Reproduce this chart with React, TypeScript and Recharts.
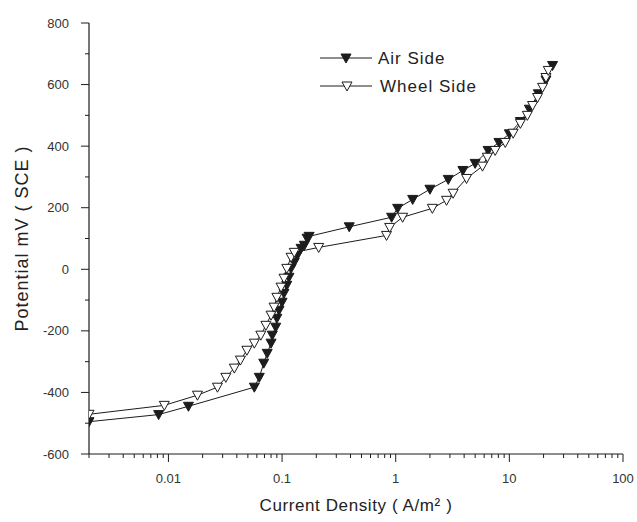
import { ScatterChart, Scatter, XAxis, YAxis } from 'recharts';

// current density (A/m2) and potential (mV vs SCE)
const airCurrent = [
  0.002, 0.0082, 0.015, 0.057, 0.063, 0.069, 0.074, 0.08, 0.082, 0.088, 0.09,
  0.094, 0.1, 0.104, 0.11, 0.115, 0.12, 0.128, 0.136, 0.147, 0.157, 0.166,
  0.173, 0.39, 0.92, 1.04, 1.41, 2.0, 2.9, 3.9, 5.0, 6.5, 8.1, 10, 12.5, 15,
  18, 21, 24,
];
const airPotential = [
  -495, -472, -445, -383, -351, -305, -273, -240, -214, -188, -159, -133, -107,
  -78, -52, -26, 3, 23, 45, 68, 78, 101, 107, 138, 169, 198, 227, 260, 292, 321,
  344, 386, 412, 440, 480, 520, 570, 615, 662,
];

const wheelCurrent = [
  0.002, 0.0092, 0.018, 0.027, 0.032, 0.038, 0.043, 0.049, 0.057, 0.065,
  0.072, 0.08, 0.085, 0.09, 0.098, 0.104, 0.11, 0.12, 0.128, 0.21, 0.83,
  0.885, 1.15, 2.1, 2.8, 3.2, 4.2, 5.8, 6.4, 7.5, 9.2, 10.8, 12.5, 14.4, 16,
  17.7, 19.6, 21, 22,
];
const wheelPotential = [
  -471, -442, -409, -383, -351, -321, -295, -263, -240, -214, -182, -149, -123,
  -91, -58, -29, 3, 39, 55, 71, 110, 136, 169, 198, 224, 247, 295, 335, 364,
  386, 412, 442, 474, 500, 532, 558, 591, 623, 646,
];

const xMajorTicks = [0.01, 0.1, 1, 10, 100];
const xDecades = [0.001, 0.01, 0.1, 1, 10];
const xMinorSteps = [2, 3, 4, 5, 6, 7, 8, 9];
const yTicks = [
  -600, -500, -400, -300, -200, -100, 0, 100, 200, 300, 400, 500, 600, 700, 800,
];
const yLabelTicks = [-600, -400, -200, 0, 200, 400, 600, 800];

const xMinorTicks = xDecades
  .flatMap((d) => xMinorSteps.map((m) => +(m * d).toPrecision(3)))
  .filter((v) => v >= 0.002);
const xTicks = [...xMinorTicks, ...xMajorTicks].sort((a, b) => a - b);

const airData = airCurrent.map((x, i) => ({ x, y: airPotential[i] }));
const wheelData = wheelCurrent.map((x, i) => ({ x, y: wheelPotential[i] }));

const FONT = '"Liberation Sans", Arial, sans-serif';
const INK = '#1c1c1c';

const triPoints = (cx: number, cy: number) =>
  `${cx - 5},${cy - 4} ${cx + 5},${cy - 4} ${cx},${cy + 5}`;

const FilledTri = (props: any) => (
  <polygon points={triPoints(props.cx, props.cy)} fill={INK} stroke={INK} strokeWidth={1} />
);
const OpenTri = (props: any) => (
  <polygon points={triPoints(props.cx, props.cy)} fill="#fff" stroke={INK} strokeWidth={1} />
);

const XTick = ({ x, y, payload }: any) => {
  const v = payload.value;
  const major = xMajorTicks.some((t) => Math.abs(t - v) / t < 1e-6);
  return (
    <g>
      <line x1={x} x2={x} y1={y} y2={y + (major ? 8 : 4)} stroke={INK} strokeWidth={1} />
      {major && (
        <text x={x} y={y + 29} textAnchor="middle" fontSize={13} fill="#333" fontFamily={FONT}>
          {v}
        </text>
      )}
    </g>
  );
};

const YTick = ({ x, y, payload }: any) => {
  const v = payload.value;
  const major = yLabelTicks.includes(v);
  return (
    <g>
      <line x1={x - (major ? 8 : 4)} x2={x} y1={y} y2={y} stroke={INK} strokeWidth={1} />
      {major && (
        <text x={x - 20} y={y + 4.5} textAnchor="end" fontSize={13} fill="#333" fontFamily={FONT}>
          {v}
        </text>
      )}
    </g>
  );
};

const Legend = () => (
  <svg width={637} height={522} style={{ position: 'absolute', left: 0, top: 0, pointerEvents: 'none' }}>
    <line x1={320} x2={372} y1={58} y2={58} stroke={INK} strokeWidth={1} />
    <FilledTri cx={346} cy={58} />
    <text x={378} y={64} fontSize={17} letterSpacing={1} fill="#222" fontFamily={FONT}>
      Air Side
    </text>
    <line x1={320} x2={372} y1={86} y2={86} stroke={INK} strokeWidth={1} />
    <OpenTri cx={347} cy={86} />
    <text x={380} y={92} fontSize={17} letterSpacing={1} fill="#222" fontFamily={FONT}>
      Wheel Side
    </text>
  </svg>
);

export default function App() {
  return (
    <div style={{ position: 'absolute', left: 0, top: 0, width: 637, height: 522, background: '#fff' }}>
      <ScatterChart
        width={637}
        height={522}
        margin={{ top: 23, right: 14, bottom: 6, left: 10 }}
        style={{ fontFamily: FONT }}
      >
        <XAxis
          type="number"
          dataKey="x"
          scale="log"
          domain={[0.002, 100]}
          allowDataOverflow
          ticks={xTicks}
          interval={0}
          height={62}
          tickSize={0}
          tickMargin={0}
          tickLine={false}
          tick={<XTick />}
          axisLine={{ stroke: INK, strokeWidth: 1.2 }}
          label={{
            value: 'Current Density ( A/m² )',
            position: 'insideBottom',
            offset: 5,
            fontSize: 17,
            fill: '#222',
            letterSpacing: 0.6,
          }}
        />
        <YAxis
          type="number"
          dataKey="y"
          domain={[-600, 800]}
          ticks={yTicks}
          interval={0}
          width={79}
          tickSize={0}
          tickMargin={0}
          tickLine={false}
          tick={<YTick />}
          axisLine={{ stroke: INK, strokeWidth: 1.2 }}
          label={{
            value: 'Potential mV ( SCE )',
            angle: -90,
            position: 'insideLeft',
            offset: 12,
            fontSize: 18,
            fill: '#222',
            letterSpacing: 1,
            style: { textAnchor: 'middle' },
          }}
        />
        <Scatter
          data={airData}
          line={{ stroke: INK, strokeWidth: 1 }}
          lineType="joint"
          shape={<FilledTri />}
          isAnimationActive={false}
        />
        <Scatter
          data={wheelData}
          line={{ stroke: INK, strokeWidth: 1 }}
          lineType="joint"
          shape={<OpenTri />}
          isAnimationActive={false}
        />
      </ScatterChart>
      <Legend />
    </div>
  );
}
